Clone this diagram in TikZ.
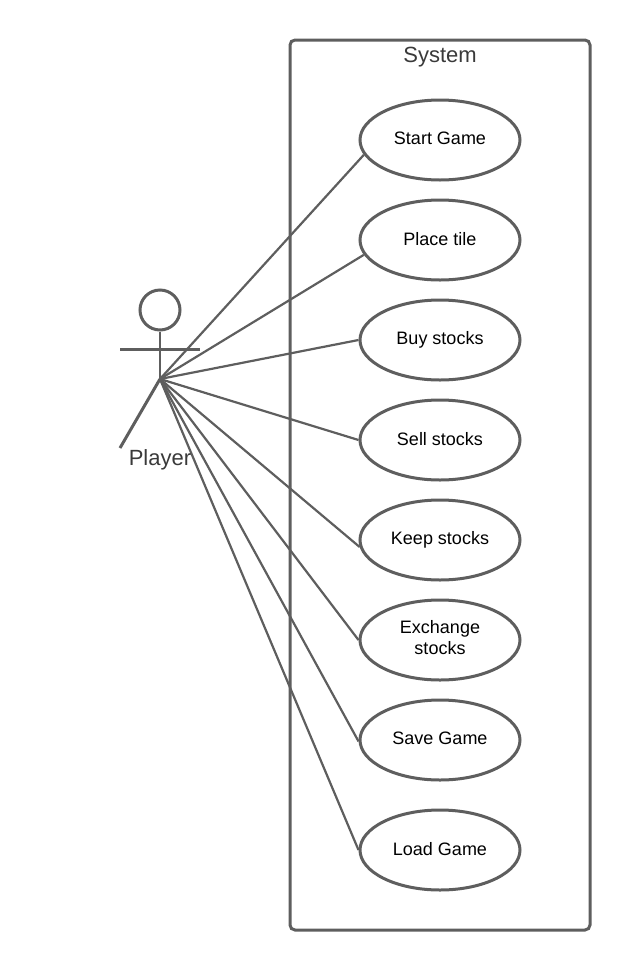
\documentclass[tikz,border=0pt]{standalone}
\usepackage{fontspec}
\setmainfont{Liberation Sans}
\usetikzlibrary{shapes.geometric}
\definecolor{ln}{HTML}{5E5E5E}
\definecolor{tx}{HTML}{3A3A3A}
\tikzset{
  px/.style={x=1pt,y=-1pt},
  usecase/.style={ellipse,draw=ln,line width=3pt,minimum width=160pt,minimum height=80pt,inner sep=0pt,align=center,font=\fontsize{18}{21}\selectfont,text=black,fill=white},
  link/.style={draw=ln,line width=2.2pt},
  actorline/.style={draw=ln,line width=3pt},
  spine/.style={draw=ln,line width=2.2pt},
  sysbox/.style={draw=ln,line width=3pt,rounded corners=5pt},
  biglabel/.style={font=\fontsize{22}{25}\selectfont,text=tx,inner sep=0pt}
}
\begin{document}
\begin{tikzpicture}[px]
\useasboundingbox (0,0) rectangle (630,970);
\node[sysbox,minimum width=300pt,minimum height=890pt,inner sep=0pt] (sys) at (440,485) {};
\node[biglabel] (systitle) at (440,57) {System};
\coordinate (hub) at (160,379);
\node[usecase] (a) at (440,140) {\raisebox{3pt}{Start Game}};
\node[usecase] (b) at (440,240) {\raisebox{3pt}{Place tile}};
\node[usecase] (c) at (440,340) {\raisebox{3pt}{Buy stocks}};
\node[usecase] (d) at (440,440) {\raisebox{3pt}{Sell stocks}};
\node[usecase] (e) at (440,540) {\raisebox{3pt}{Keep stocks}};
\node[usecase] (f) at (440,640) {\raisebox{5pt}{Exchange}\\\raisebox{5pt}{stocks}};
\node[usecase] (g) at (440,740) {\raisebox{3pt}{Save Game}};
\node[usecase] (h) at (440,850) {\raisebox{3pt}{Load Game}};
\draw[link] (hub) -- (a.191);
\draw[link] (hub) -- (b.191);
\draw[link] (hub) -- (e.185);
\draw[link] (hub) -- (g.181);
\foreach \n in {c,d,f,h} \draw[link] (hub) -- (\n.west);
\node[circle,draw=ln,line width=3pt,minimum size=40pt,inner sep=0pt] (head) at (160,310) {};
\coordinate (armL) at (120,349);
\coordinate (armR) at (200,349);
\coordinate (legL) at (120,448);
\draw[spine] (head) -- (hub);
\draw[actorline] (armL) -- (armR);
\draw[actorline] (legL) -- (hub);
\node[biglabel] (player) at (160,460) {Player};
\end{tikzpicture}
\end{document}
